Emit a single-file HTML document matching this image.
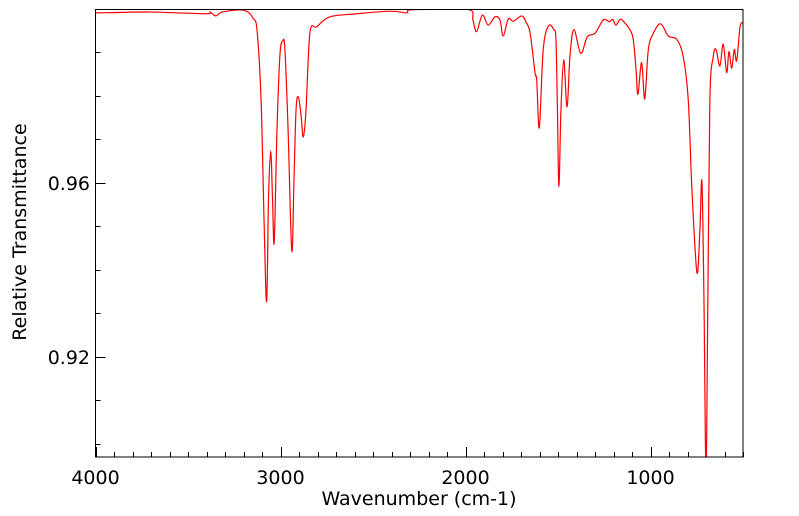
<!DOCTYPE html>
<html><head><meta charset="utf-8"><style>
html,body{margin:0;padding:0;background:#fff;}
svg{display:block;font-family:"DejaVu Sans","Liberation Sans",sans-serif;}
</style></head><body>
<svg id="chart" width="799" height="516" viewBox="0 0 799 516" xmlns="http://www.w3.org/2000/svg">
<defs><clipPath id="plotclip"><rect x="95.5" y="9" width="647.5" height="448"/></clipPath></defs>
<g id="axes"></g>
<g clip-path="url(#plotclip)"><path id="series" fill="none" stroke="#ff0000" stroke-width="1.2" stroke-linejoin="round"/></g>
<rect x="95.5" y="9.5" width="647.5" height="447.5" fill="none" stroke="#000" stroke-width="1"/>
<text x="419" y="505" font-size="19" text-anchor="middle">Wavenumber (cm-1)</text>
<text x="0" y="0" font-size="19" text-anchor="middle" transform="translate(26,232) rotate(-90)">Relative Transmittance</text>
</svg>
<script>
const wavenumbers = [4000,3705,3408,3381,3349,3316,3219,3176,3149,3127,3105,3089,3075,3065,3053,3043,3034,3019,3003,2988,2976,2959,2939,2927,2916,2904,2889,2877,2862,2841,2804,2733,2588,2408,2318,2300,2138,1976,1960,1940,1909,1877,1841,1814,1796,1769,1742,1696,1673,1651,1624,1615,1601,1580,1552,1522,1511,1503,1495,1484,1469,1451,1435,1414,1377,1342,1300,1255,1223,1204,1187,1165,1147,1111,1093,1078,1068,1048,1031,1012,985,945,904,858,823,796,776,749,733,722,711,700,690,679,661,646,625,607,588,576,561,547,534,516,500];
const transmittance = [0.9991,0.9993,0.9989,0.9993,0.9984,0.9993,0.9998,0.9993,0.9979,0.9952,0.9791,0.9515,0.9327,0.9561,0.9674,0.9561,0.9464,0.9722,0.9894,0.9927,0.9906,0.9722,0.9444,0.9607,0.9768,0.9798,0.9756,0.9706,0.9768,0.9945,0.9959,0.9982,0.9989,0.9995,0.9991,0.9998,0.9999,0.9998,0.9975,0.9948,0.9986,0.9963,0.9982,0.9975,0.9938,0.9977,0.9972,0.9984,0.9970,0.9945,0.9853,0.9837,0.9727,0.9906,0.9961,0.9952,0.9929,0.9768,0.9591,0.9768,0.9883,0.9775,0.9894,0.9953,0.9898,0.9936,0.9944,0.9975,0.9971,0.9976,0.9963,0.9976,0.9972,0.9952,0.9929,0.9860,0.9804,0.9877,0.9793,0.9906,0.9944,0.9966,0.9938,0.9930,0.9890,0.9791,0.9584,0.9394,0.9492,0.9603,0.9331,0.8940,0.9331,0.9791,0.9890,0.9907,0.9869,0.9919,0.9854,0.9902,0.9864,0.9907,0.9881,0.9959,0.9968];
const xTickLabels = [4000,3000,2000,1000];
const yTickLabels = [0.92,0.96];
const xMinorTicks = [4000,3900,3800,3700,3600,3500,3400,3300,3200,3100,3000,2900,2800,2700,2600,2500,2400,2300,2200,2100,2000,1900,1800,1700,1600,1500,1400,1300,1200,1100,1000,900,800,700,600,500];
const yMinorTicks = [0.90,0.91,0.92,0.93,0.94,0.95,0.96,0.97,0.98,0.99,1.0];

const X0=95.5, X1=743, Y0=9, Y1=457;
function xs(w){return X0+(4000-w)*(X1-X0)/3500;}
function ys(t){return Y0+(1.0-t)*(Y1-Y0)/0.103;}
const NS="http://www.w3.org/2000/svg";
const axes=document.getElementById('axes');
function line(x1,y1,x2,y2,name){
  const l=document.createElementNS(NS,'line');
  l.setAttribute('x1',x1);l.setAttribute('y1',y1);l.setAttribute('x2',x2);l.setAttribute('y2',y2);
  l.setAttribute('stroke','#000');l.setAttribute('stroke-width','1');
  
  
  axes.appendChild(l);
}
function text(x,y,s,anchor,name){
  const t=document.createElementNS(NS,'text');
  t.setAttribute('x',x);t.setAttribute('y',y);t.setAttribute('font-size','19');t.setAttribute('text-anchor',anchor);
  t.textContent=s;
  
  
  axes.appendChild(t);
}
xMinorTicks.forEach(w=>{const x=Math.round(xs(w))+0.5;const major=w%1000===0;line(x,Y1,x,Y1-(major?10:5),'x-tick');});
yMinorTicks.forEach(t=>{const y=Math.round(ys(t))+0.5;const major=Math.abs(t*100%4)<0.01;line(X0,y,X0+(major?10:5),y,'y-tick');});
xTickLabels.forEach(w=>text(xs(w),484,String(w),'middle','x-tick-label'));
yTickLabels.forEach(t=>text(90,ys(t)+7,t.toFixed(2),'end','y-tick-label'));
const P=wavenumbers.map((w,i)=>[xs(w),ys(transmittance[i])]);
let d='M'+P[0][0].toFixed(2)+','+P[0][1].toFixed(2);
for(let i=0;i<P.length-1;i++){
  const p0=P[Math.max(0,i-1)],p1=P[i],p2=P[i+1],p3=P[Math.min(P.length-1,i+2)];
  const k=1/6;
  const c1=[p1[0]+(p2[0]-p0[0])*k,p1[1]+(p2[1]-p0[1])*k];
  const c2=[p2[0]-(p3[0]-p1[0])*k,p2[1]-(p3[1]-p1[1])*k];
  d+='C'+c1[0].toFixed(2)+','+c1[1].toFixed(2)+' '+c2[0].toFixed(2)+','+c2[1].toFixed(2)+' '+p2[0].toFixed(2)+','+p2[1].toFixed(2);
}
document.getElementById('series').setAttribute('d',d);
</script>
</body></html>
